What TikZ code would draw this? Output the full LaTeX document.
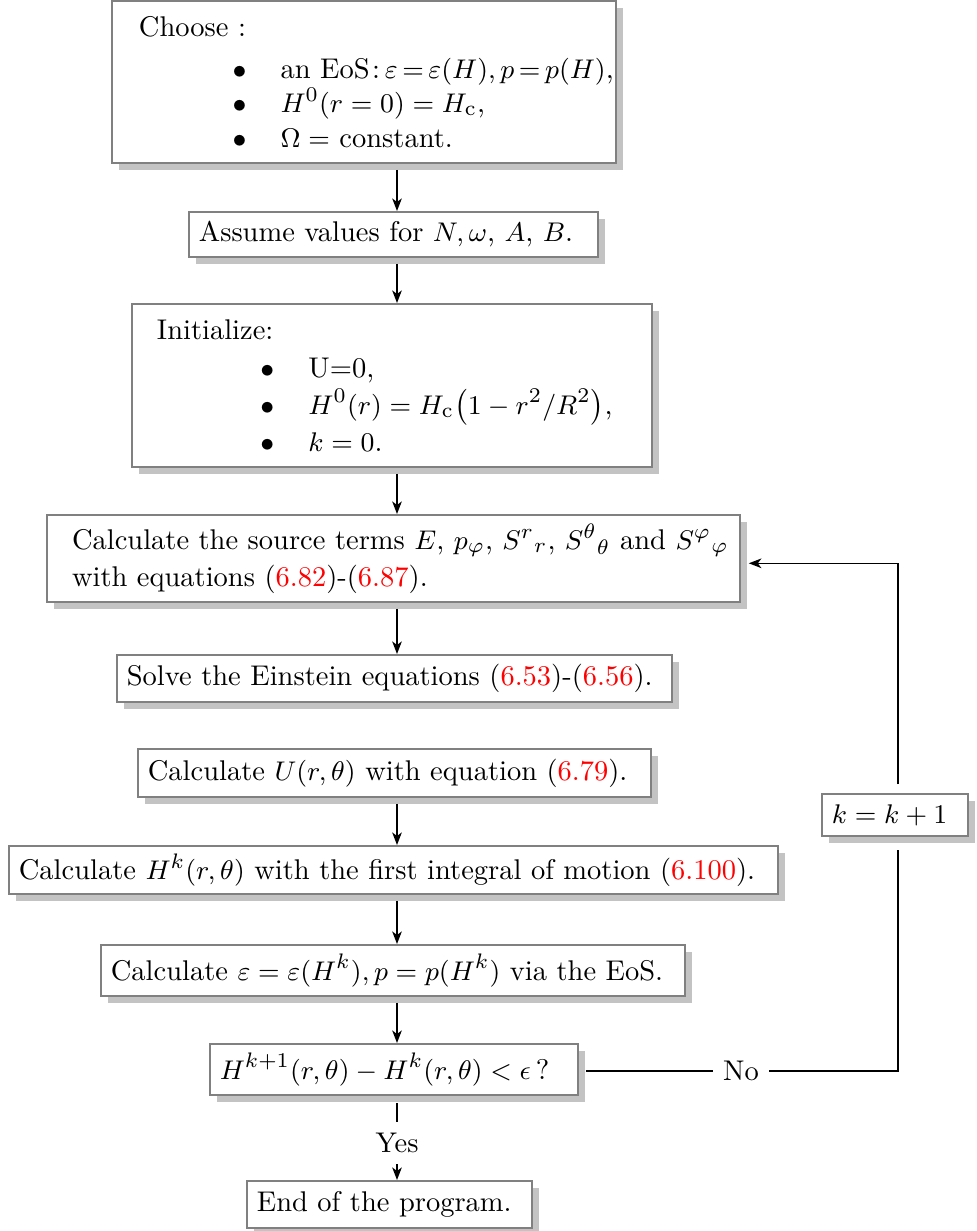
\documentclass[tikz,border=0pt]{standalone}
\usepackage{graphicx}
\usetikzlibrary{shadows,arrows.meta,calc}
\definecolor{boxgray}{RGB}{128,128,128}
\definecolor{shadowgray}{RGB}{195,195,195}
\tikzset{
  box/.style={draw=boxgray, line width=0.65pt, fill=white,
    drop shadow={shadow xshift=2.3pt, shadow yshift=-2.3pt, fill=shadowgray, opacity=1},
    inner xsep=3.3pt, inner ysep=0pt, align=left, anchor=center,
    font=\fontsize{9.5}{11.6}\selectfont},
  lbl/.style={inner sep=0pt, font=\fontsize{9.5}{11.6}\selectfont},
  conn/.style={line width=0.5pt, draw=black},
  arr/.style={conn, -{Stealth[length=4.2pt,width=3.2pt,inset=1.2pt]}},
}
\newcommand{\bul}{\makebox[16pt][l]{$\bullet$}}
\newcommand{\eqr}[1]{\textcolor{red}{#1}}
\begin{document}
\begin{tikzpicture}[x=0.33333pt,y=-0.33333pt]
\useasboundingbox (0,0) rectangle (976,1231);
\coordinate (col) at (397,0);

\node[box, minimum width=168pt, minimum height=54pt, inner xsep=9pt, text width=150pt] (choose) at (364,82)
 {\mbox{Choose :}\\[2.4pt]
  \mbox{\hspace*{31.2pt}\bul an EoS\hspace{0.8pt}:\,{\thickmuskip=3mu$\varepsilon=\varepsilon(H), p=p(H)$},}\\
  \mbox{\hspace*{31.2pt}\bul $H^0(r=0)=H_{\mathrm{c}}$,}\\
  \mbox{\hspace*{31.2pt}\bul $\Omega=$ constant.}};

\node[box, minimum width=136.33pt, minimum height=15pt, text width=129.73pt] (assume) at (393.5,234.5)
 {\mbox{Assume values for $N, \omega$, $A$, $B$.}};

\node[box, minimum width=173.33pt, minimum height=54.33pt, inner xsep=8.33pt, text width=156.67pt] (init) at (392,385.5)
 {\mbox{Initialize:}\\[1pt]
  \mbox{\hspace*{34.5pt}\bul U=0,}\\[0.8pt]
  \mbox{\hspace*{34.5pt}\bul $H^0(r)=H_{\mathrm{c}}\bigl(1-r^2/R^2\bigr)$,}\\[0.8pt]
  \mbox{\hspace*{34.5pt}\bul $k=0$.}};

\node[box, minimum width=231pt, minimum height=29pt, inner xsep=8.33pt, text width=214.33pt] (src) at (393.5,558.5)
 {\mbox{Calculate the source terms $E$, $p_\varphi$, $S^{r}{}_{r}$, $S^{\theta}{}_{\theta}$ and $S^{\varphi}{}_{\varphi}$}\\[0.6pt]
  \mbox{with equations (\eqr{6.82})-(\eqr{6.87}).}};

\node[box, minimum width=185pt, minimum height=15.67pt, text width=178.4pt] (solve) at (394.5,678.5)
 {\mbox{Solve the Einstein equations (\eqr{6.53})-(\eqr{6.56}).}};

\node[box, minimum width=171pt, minimum height=16pt, text width=164.4pt] (calcU) at (394.5,773)
 {\mbox{Calculate $U(r,\theta)$ with equation (\eqr{6.79}).}};

\node[box, minimum width=256.33pt, minimum height=16pt, text width=249.73pt] (calcH) at (393.5,870)
 {\mbox{Calculate $H^k(r,\theta)$ with the first integral of motion (\eqr{6.100}).}};

\node[box, minimum width=194.67pt, minimum height=17pt, text width=188.07pt] (calcE) at (393,970.5)
 {\mbox{Calculate $\varepsilon=\varepsilon(H^k), p=p(H^k)$ via the EoS.}};

\node[box, minimum width=122.67pt, minimum height=17pt, text width=116.07pt] (dec) at (394,1069.5)
 {\mbox{$H^{k+1}(r,\theta)-H^k(r,\theta)<\epsilon$\,?}};

\node[box, minimum width=95pt, minimum height=15.67pt, text width=88.4pt] (end) at (389.5,1204.5)
 {\mbox{End of the program.}};

\node[box, minimum width=48.67pt, minimum height=14pt, text width=42.07pt] (k) at (895,815)
 {\mbox{$k=k+1$}};

\node[lbl] (yes) at (397,1143) {Yes};
\node[lbl] (no) at (741,1071) {No};

% main column
\draw[arr] ($(choose.south -| col)+(0,-2pt)$) -- (assume.north -| col);
\draw[arr] ($(assume.south -| col)+(0,-2pt)$) -- (init.north -| col);
\draw[arr] ($(init.south -| col)+(0,-2pt)$) -- (src.north -| col);
\draw[arr] ($(src.south -| col)+(0,-2pt)$) -- (solve.north -| col);
\draw[arr] ($(calcU.south -| col)+(0,-2pt)$) -- (calcH.north -| col);
\draw[arr] ($(calcH.south -| col)+(0,-2pt)$) -- (calcE.north -| col);
\draw[arr] ($(calcE.south -| col)+(0,-2pt)$) -- (dec.north -| col);
\draw[conn] ($(dec.south -| col)+(0,-2.4pt)$) -- ($(yes.north)+(0,3.6pt)$);
\draw[arr] ($(yes.south)+(0,-3.6pt)$) -- (end.north -| yes);
% loop
\coordinate (loopx) at (898,0);
\draw[conn] ($(dec.east)+(2.4pt,-0.5pt)$) -- ($(no.west)+(-3.2pt,0)$);
\draw[conn] ($(no.east)+(3.2pt,0)$) -| ($(k.south -| loopx)+(0,-4.3pt)$);
\draw[arr] ($(k.north -| loopx)+(0,3pt)$) |- ($(src.east)+(2.6pt,-1.6pt)$);
\end{tikzpicture}
\end{document}
